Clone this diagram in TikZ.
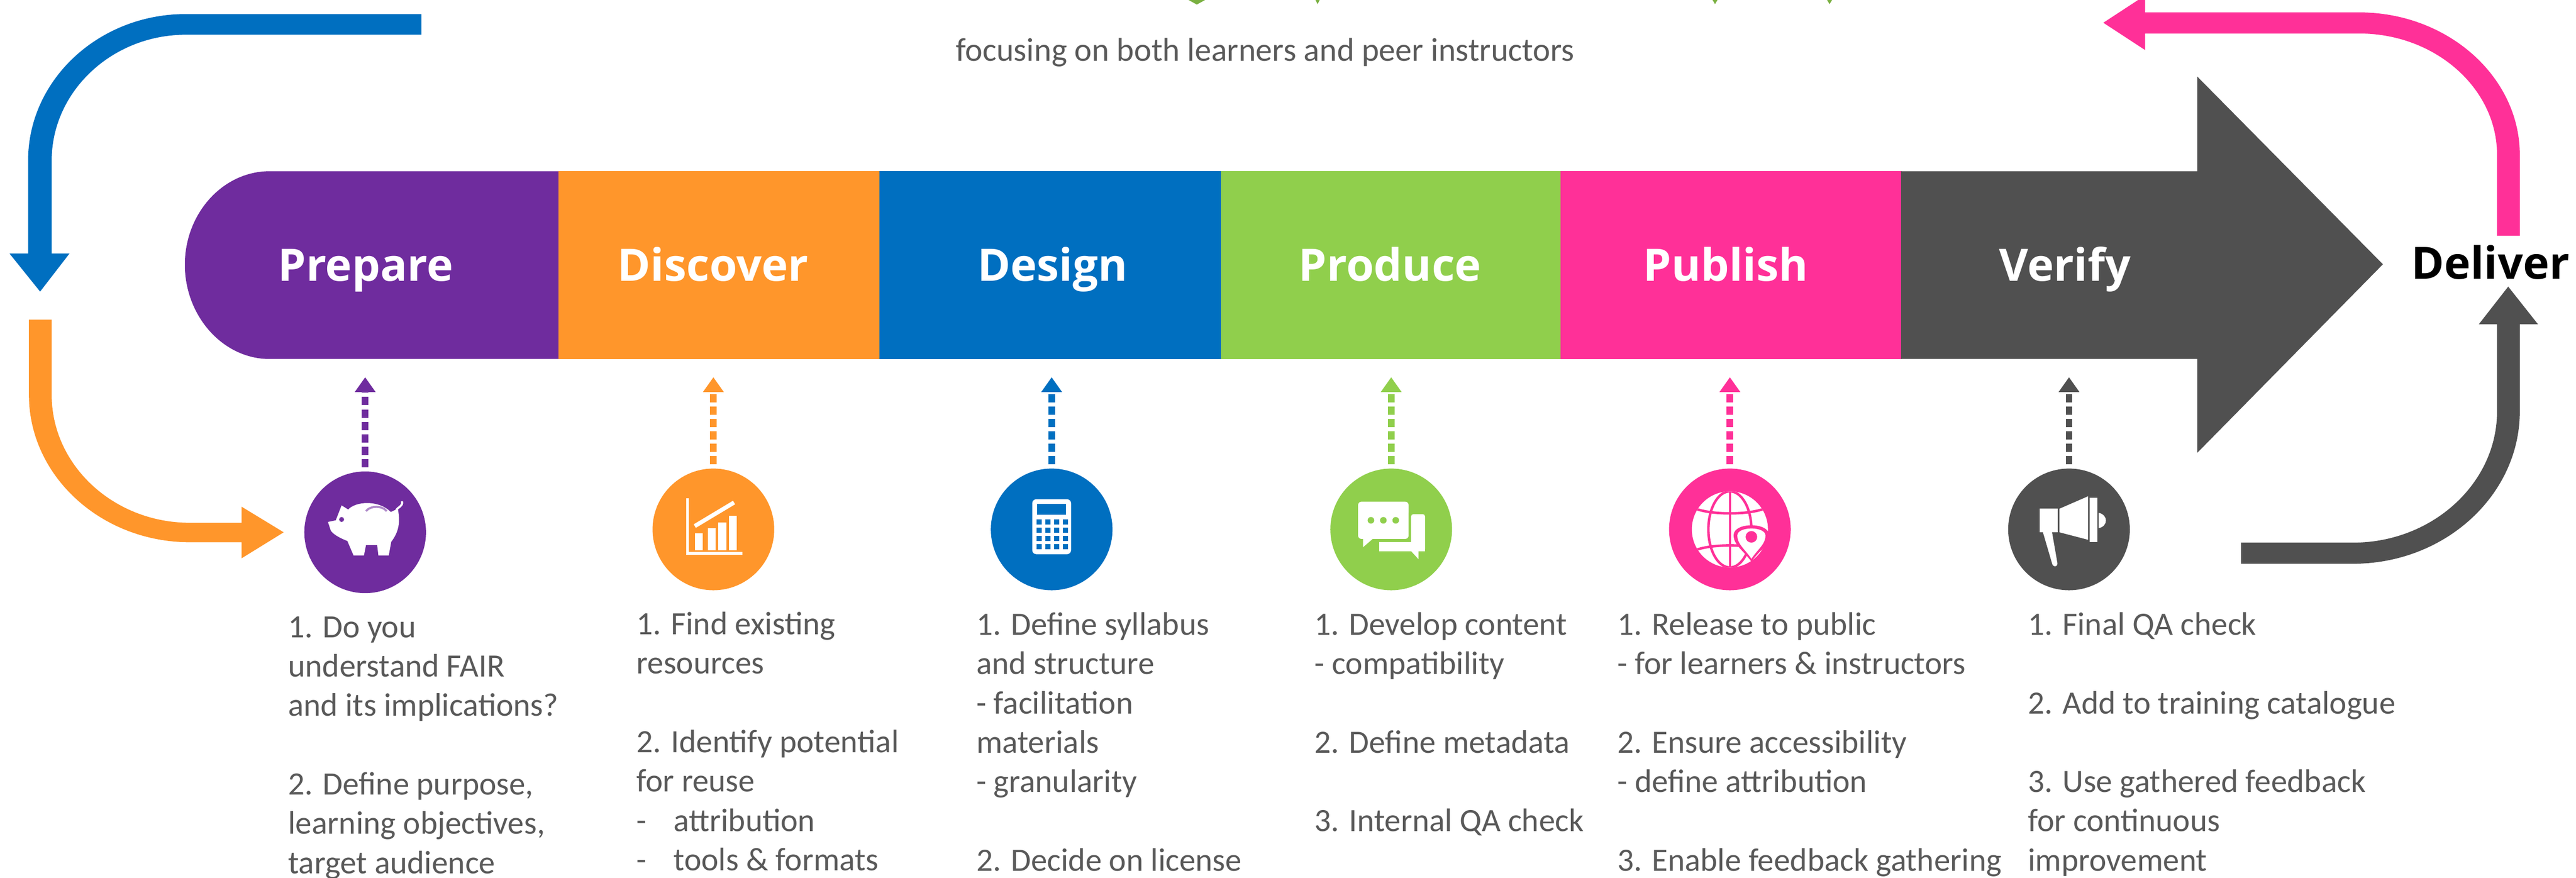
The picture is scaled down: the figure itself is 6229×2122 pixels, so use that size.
\documentclass[tikz,border=0pt]{standalone}
\usepackage{fontspec}
\usetikzlibrary{arrows.meta}
\newfontfamily\bodyf{Carlito}
\newfontfamily\headf{Open Sans}
\definecolor{cpurple}{HTML}{6F2C9E}
\definecolor{corange}{HTML}{FF962B}
\definecolor{cblue}{HTML}{006FC0}
\definecolor{cgreen}{HTML}{90CF4C}
\definecolor{cpink}{HTML}{FF3098}
\definecolor{cgray}{HTML}{505050}
\definecolor{ctext}{HTML}{595959}
\tikzset{
  steplabel/.style={anchor=base,inner sep=0pt,text=white,font={\headf\bfseries\fontsize{30.8}{36}\selectfont}},
  body/.style={anchor=north west,inner sep=0pt,outer sep=0pt,align=left,text=ctext,font={\bodyf\fontsize{22.4}{27.03}\selectfont}},
  disc/.style={circle,fill=#1,minimum size=2.94cm,inner sep=0pt,outer sep=0pt},
  feed/.style={draw=#1,line width=0.16cm,dash pattern=on 0.2cm off 0.1cm,shorten <=0.1cm,-{Triangle[length=0.36cm,width=0.48cm,fill=#1]}},
  ico/.style={fill=white,draw=none},
}
\newcommand{\fl}{\rule{0pt}{20pt}}
\begin{document}
\begin{tikzpicture}[x=0.01cm,y=-0.01cm]
\useasboundingbox (0,0) rectangle (6229,2122);
% clipped title remnants
\fill[cgreen!85!black] (2874,0) -- (2914,0) -- (2894,11) -- cycle;
\fill[cgreen!85!black] (3181,0) -- (3191,0) -- (3186,10) -- cycle;
\fill[cgreen!85!black] (4141,0) -- (4153,0) -- (4147,10) -- cycle;
\fill[cgreen!85!black] (4418,0) -- (4430,0) -- (4424,10) -- cycle;
\node[anchor=base,inner sep=0pt,text=ctext,font={\bodyf\fontsize{22.7}{27}\selectfont}] (sub) at (3059,148) {focusing on both learners and peer instructors};
% band
\fill[cpurple] (1352,414) -- (652,414) .. controls (539,414) and (447,516) .. (447,640) .. controls (447,764) and (539,868) .. (652,868) -- (1352,868) -- cycle;
\fill[corange] (1351,414) rectangle (2127,868);
\fill[cblue] (2126,414) rectangle (2953,868);
\fill[cgreen] (2952,414) rectangle (3775,868);
\fill[cpink] (3774,414) rectangle (4598,868);
\fill[cgray] (4597,414) -- (5313,414) -- (5313,185) -- (5762,639) -- (5313,1095) -- (5313,868) -- (4597,868) -- cycle;
\node[steplabel] (lprepare) at (884,680) {Prepare};
\node[steplabel] (ldiscover) at (1724,680) {Discover};
\node[steplabel] (ldesign) at (2545,680) {Design};
\node[steplabel] (lproduce) at (3361,680) {Produce};
\node[steplabel] (lpublish) at (4173,680) {Publish};
\node[steplabel] (lverify) at (4993,680) {Verify};
\node[steplabel,text=black,font={\headf\bfseries\fontsize{30.6}{36}\selectfont}] (deliver) at (6022,675) {Deliver};
% loop arrows
\fill[cblue] (1019,34) -- (449,34) .. controls (239,34) and (68,193) .. (68,388) -- (68,613) -- (23,613) -- (97,705) -- (168,613) -- (125,613) -- (125,388) .. controls (125,221) and (271,84) .. (449,84) -- (1019,84) -- cycle;
\fill[corange] (70,773) -- (70,955) .. controls (70,1151) and (245,1311) .. (459,1311) -- (584,1311) -- (584,1350) -- (686,1287) -- (584,1225) -- (584,1264) -- (459,1264) .. controls (275,1264) and (125,1125) .. (125,955) -- (125,773) -- cycle;
\fill[cpink] (6093,570) -- (6093,374) .. controls (6093,185) and (5918,30) .. (5705,30) -- (5187,30) -- (5187,-11) -- (5086,55) -- (5187,121) -- (5187,81) -- (5705,81) .. controls (5888,81) and (6038,213) .. (6038,374) -- (6038,570) -- cycle;
\fill[cgray] (5419,1312) -- (5690,1312) .. controls (5881,1312) and (6038,1169) .. (6038,995) -- (6038,784) -- (5994,784) -- (6065,693) -- (6137,784) -- (6093,784) -- (6093,995) .. controls (6093,1197) and (5912,1363) .. (5690,1363) -- (5419,1363) -- cycle;
% discs
\node[disc=cpurple] (d1) at (883,1287) {};
\node[disc=corange] (d2) at (1725,1280) {};
\node[disc=cblue] (d3) at (2543,1280) {};
\node[disc=cgreen] (d4) at (3364,1280) {};
\node[disc=cpink] (d5) at (4183,1280) {};
\node[disc=cgray] (d6) at (5003,1280) {};
\coordinate (t1) at (883,912);
\coordinate (t2) at (1725,912);
\coordinate (t3) at (2543,912);
\coordinate (t4) at (3364,912);
\coordinate (t5) at (4183,912);
\coordinate (t6) at (5003,912);
\draw[feed=cpurple] (d1.north) -- (t1);
\draw[feed=corange] (d2.north) -- (t2);
\draw[feed=cblue] (d3.north) -- (t3);
\draw[feed=cgreen] (d4.north) -- (t4);
\draw[feed=cpink] (d5.north) -- (t5);
\draw[feed=cgray] (d6.north) -- (t6);
% pig
\fill[ico] (793,1262) -- (812,1258) -- (826,1222) -- (842,1232) .. controls (860,1212) and (915,1208) .. (945,1238) -- (962,1230) .. controls (968,1262) and (965,1285) .. (946,1310) -- (940,1343) -- (915,1343) -- (912,1318) -- (885,1318) -- (880,1343) -- (855,1343) -- (840,1308) .. controls (815,1298) and (805,1290) .. (800,1283) -- cycle;
\draw[white,line width=0.05cm] (958,1234) .. controls (962,1225) and (975,1225) .. (972,1212);
\fill[cpurple] (826,1256) circle (6);
\draw[cpurple!55!white,line width=0.05cm] (885,1236) .. controls (895,1222) and (925,1222) .. (935,1236);
% chart
\fill[ico] (1660,1205) rectangle (1666,1342);
\fill[ico] (1660,1334) rectangle (1795,1342);
\fill[ico] (1680,1290) rectangle (1699,1331);
\fill[ico] (1712,1277) rectangle (1731,1331);
\fill[ico] (1737,1263) rectangle (1756,1331);
\fill[ico] (1763,1247) rectangle (1782,1331);
\draw[white,line width=0.1cm] (1680,1272) -- (1775,1215);
% calculator
\fill[ico,rounded corners=0.1cm] (2496,1207) rectangle (2590,1340);
\fill[cblue] (2508,1219) rectangle (2578,1245);
\foreach \cx in {2513,2534,2555,2576} \foreach \cy in {1262,1282,1302,1322}
  \fill[cblue] (\cx-6,\cy-6) rectangle (\cx+6,\cy+6);
% chat
\fill[ico,rounded corners=0.08cm] (3284,1213) rectangle (3406,1303);
\fill[ico] (3296,1298) -- (3296,1323) -- (3325,1298) -- cycle;
\fill[cgreen] (3330,1303) rectangle (3412,1310);
\fill[cgreen] (3406,1240) rectangle (3412,1310);
\fill[ico,rounded corners=0.06cm] (3412,1243) rectangle (3446,1333);
\fill[ico] (3335,1310) rectangle (3446,1333);
\fill[ico] (3408,1328) -- (3430,1352) -- (3430,1328) -- cycle;
\fill[cgreen] (3315,1258) circle (8);
\fill[cgreen] (3345,1258) circle (8);
\fill[cgreen] (3375,1258) circle (8);
% globe
\fill[ico] (4183,1280) circle (92);
\begin{scope}
\clip (4183,1280) circle (92);
\draw[cpink,line width=0.05cm] (4183,1188) -- (4183,1372);
\draw[cpink,line width=0.06cm] (4183,1280) ellipse (52 and 92);
\draw[cpink,line width=0.06cm] (4100,1230) .. controls (4140,1245) and (4226,1245) .. (4266,1230);
\draw[cpink,line width=0.06cm] (4100,1330) .. controls (4140,1315) and (4226,1315) .. (4266,1330);
\end{scope}
\fill[cpink] (4235,1358) .. controls (4215,1330) and (4192,1318) .. (4192,1294) .. controls (4192,1262) and (4278,1262) .. (4278,1294) .. controls (4278,1318) and (4255,1330) .. (4235,1358) -- cycle;
\fill[ico] (4235,1351) .. controls (4220,1328) and (4201,1316) .. (4201,1295) .. controls (4201,1272) and (4269,1272) .. (4269,1295) .. controls (4269,1316) and (4250,1328) .. (4235,1351) -- cycle;
\fill[cpink] (4235,1298) circle (14);
% megaphone
\fill[ico] (4932,1230) rectangle (4976,1287);
\fill[ico] (4940,1287) -- (4962,1287) -- (4975,1362) .. controls (4975,1372) and (4964,1372) .. (4962,1362) -- cycle;
\fill[ico] (4980,1230) -- (5049,1200) -- (5049,1305) -- (4980,1287) -- cycle;
\fill[ico] (5053,1203) rectangle (5071,1310);
\fill[ico] (5075,1240) .. controls (5098,1245) and (5098,1272) .. (5075,1277) -- cycle;
% texts
\node[body] (tx1) at (697,1471) {\fl 1. Do you\\understand FAIR\\and its implications?\\[27.03pt]2. Define purpose,\\learning objectives,\\target audience};
\node[body] (tx2) at (1539,1464) {\fl 1. Find existing\\resources\\[27.03pt]2. Identify potential\\for reuse\\\makebox[25.6pt][l]{-}attribution\\\makebox[25.6pt][l]{-}tools \& formats};
\node[body] (tx3) at (2361,1465) {\fl 1. Define syllabus\\and structure\\- facilitation\\materials\\- granularity\\[27.03pt]2. Decide on license};
\node[body] (tx4) at (3179,1465) {\fl 1. Develop content\\- compatibility\\[27.03pt]2. Define metadata\\[27.03pt]3. Internal QA check};
\node[body] (tx5) at (3911,1465) {\fl 1. Release to public\\- for learners \& instructors\\[27.03pt]2. Ensure accessibility\\- define attribution\\[27.03pt]3. Enable feedback gathering};
\node[body] (tx6) at (4904,1465) {\fl 1. Final QA check\\[27.03pt]2. Add to training catalogue\\[27.03pt]3. Use gathered feedback\\for continuous\\improvement};
\end{tikzpicture}
\end{document}
